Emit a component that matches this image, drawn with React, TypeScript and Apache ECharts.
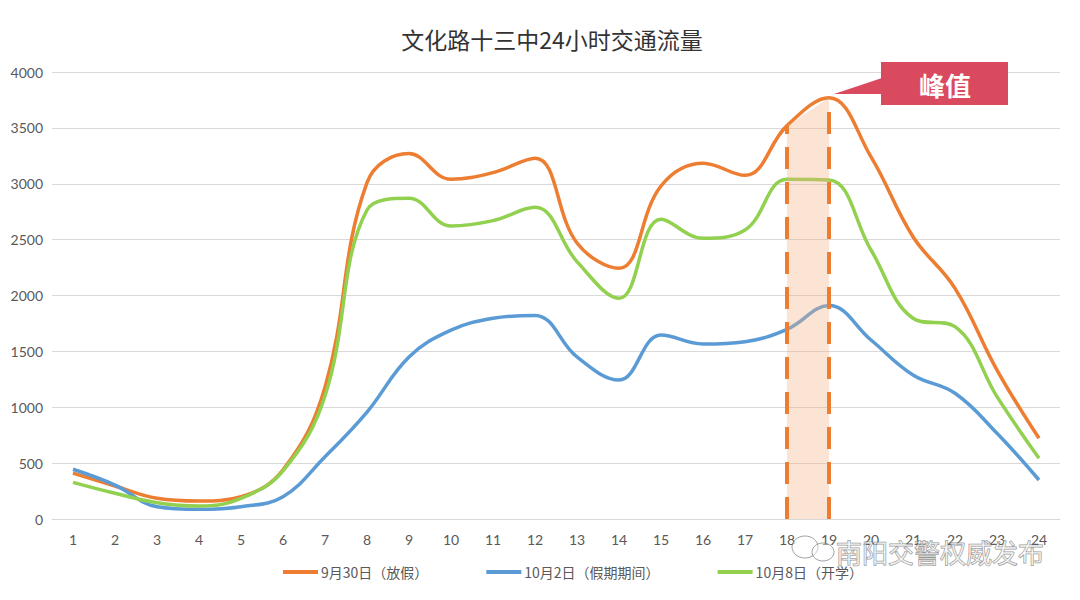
import React, { useEffect, useRef } from "react";
import * as echarts from "echarts";

const hours = ["1","2","3","4","5","6","7","8","9","10","11","12","13","14","15","16","17","18","19","20","21","22","23","24"];
const sep30 = [410, 295, 185, 160, 200, 440, 1180, 3010, 3270, 3040, 3100, 3228, 2470, 2243, 2980, 3183, 3075, 3520, 3770, 3240, 2526, 2064, 1333, 722];
const oct2 = [445, 304, 110, 87, 110, 200, 557, 957, 1450, 1690, 1796, 1822, 1450, 1244, 1646, 1566, 1587, 1697, 1910, 1602, 1289, 1125, 767, 349];
const oct8 = [328, 230, 146, 116, 185, 430, 1100, 2765, 2870, 2622, 2670, 2789, 2303, 1975, 2682, 2512, 2586, 3040, 3034, 2407, 1796, 1721, 1095, 543];
const seriesNames = ["9月30日（放假）", "10月2日（假期期间）", "10月8日（开学）"];
const colors = ["#ED7D31", "#5B9BD5", "#92D050"];
const peakStart = "18";
const peakEnd = "19";
const yTicks = { min: 0, max: 4000, interval: 500 };

export default function App() {
  const ref = useRef<HTMLDivElement>(null);
  useEffect(() => {
    if (!ref.current) return;
    const chart = echarts.init(ref.current, undefined, { renderer: "svg" });
    const i0 = hours.indexOf(peakStart);
    const i1 = hours.indexOf(peakEnd);
    const band = hours.map((_, i) => (i === i0 || i === i1 ? sep30[i] : null));
    const mk = (name: string, data: number[], color: string) => ({
      name,
      type: "line",
      data,
      smooth: 0.4,
      symbol: "none",
      lineStyle: { color, width: 3.5 },
      itemStyle: { color },
      z: 3,
    });
    chart.setOption({
      animation: false,
      backgroundColor: "#ffffff",
      title: {
        text: "文化路十三中24小时交通流量",
        left: 547,
        top: 22,
        textAlign: "center",
        textStyle: { fontFamily: "Noto Sans CJK SC", fontSize: 23, fontWeight: "normal", color: "#333333" },
      },
      legend: {
        data: seriesNames,
        bottom: 16,
        left: 278,
        icon: "rect",
        itemWidth: 35,
        itemHeight: 4,
        itemGap: 58,
        textStyle: { fontFamily: "Noto Sans CJK SC", fontSize: 14, color: "#595959", padding: [0, 0, 0, -2] },
      },
      grid: { left: 52, right: 20, top: 72, bottom: 81 },
      xAxis: {
        type: "category",
        data: hours,
        boundaryGap: true,
        axisLine: { lineStyle: { color: "#D9D9D9" } },
        axisTick: { show: false },
        axisLabel: { fontFamily: "Lato", fontSize: 14, color: "#595959", margin: 13 },
      },
      yAxis: {
        type: "value",
        ...yTicks,
        axisLine: { show: false },
        axisTick: { show: false },
        splitLine: { lineStyle: { color: "#D9D9D9", width: 1 } },
        axisLabel: { fontFamily: "Lato", fontSize: 14, color: "#595959", margin: 9, formatter: (v: number) => String(v) },
      },
      series: [
        mk(seriesNames[0], sep30, colors[0]),
        mk(seriesNames[1], oct2, colors[1]),
        mk(seriesNames[2], oct8, colors[2]),
        {
          name: "peak",
          type: "line",
          data: band,
          symbol: "none",
          connectNulls: false,
          lineStyle: { width: 0, color: "transparent" },
          areaStyle: { color: "rgba(244,177,131,0.5)", origin: "start" },
          z: 4,
          markLine: {
            symbol: "none",
            silent: true,
            label: { show: false },
            lineStyle: { color: "#ED7D31", width: 4, type: [22, 13] },
            data: [
              [{ coord: [peakStart, 0] }, { coord: [peakStart, sep30[i0]] }],
              [{ coord: [peakEnd, 0] }, { coord: [peakEnd, sep30[i1] - 80] }],
            ],
          },
        },
      ],
      graphic: [
        {
          type: "polygon",
          shape: { points: [[834, 94], [882, 78], [882, 94]] },
          style: { fill: "#DA4A5E" },
          z: 10,
        },
        {
          type: "rect",
          shape: { x: 881, y: 62, width: 127, height: 43 },
          style: { fill: "#DA4A5E" },
          z: 10,
        },
        {
          type: "text",
          x: 945,
          y: 84,
          style: {
            text: "峰值",
            fill: "#ffffff",
            font: "bold 26px 'Noto Sans CJK SC'",
            align: "center",
            verticalAlign: "middle",
          },
          z: 11,
        },
        {
          type: "text",
          x: 940,
          y: 551,
          style: {
            text: "南阳交警权威发布",
            fill: "rgba(255,255,255,0.55)",
            stroke: "rgba(100,100,100,0.7)",
            lineWidth: 1,
            font: "26px 'Noto Sans CJK SC'",
            align: "center",
            verticalAlign: "middle",
          },
          z: 12,
        },
        {
          type: "ellipse",
          shape: { cx: 805, cy: 547, rx: 13, ry: 11 },
          style: { fill: "rgba(255,255,255,0.4)", stroke: "rgba(100,100,100,0.6)", lineWidth: 1 },
          z: 12,
        },
        {
          type: "ellipse",
          shape: { cx: 823, cy: 552, rx: 11, ry: 9 },
          style: { fill: "rgba(255,255,255,0.4)", stroke: "rgba(100,100,100,0.6)", lineWidth: 1 },
          z: 12,
        },
      ],
    });
    return () => chart.dispose();
  }, []);
  return <div ref={ref} style={{ width: 1080, height: 600, margin: -8 }} />;
}
